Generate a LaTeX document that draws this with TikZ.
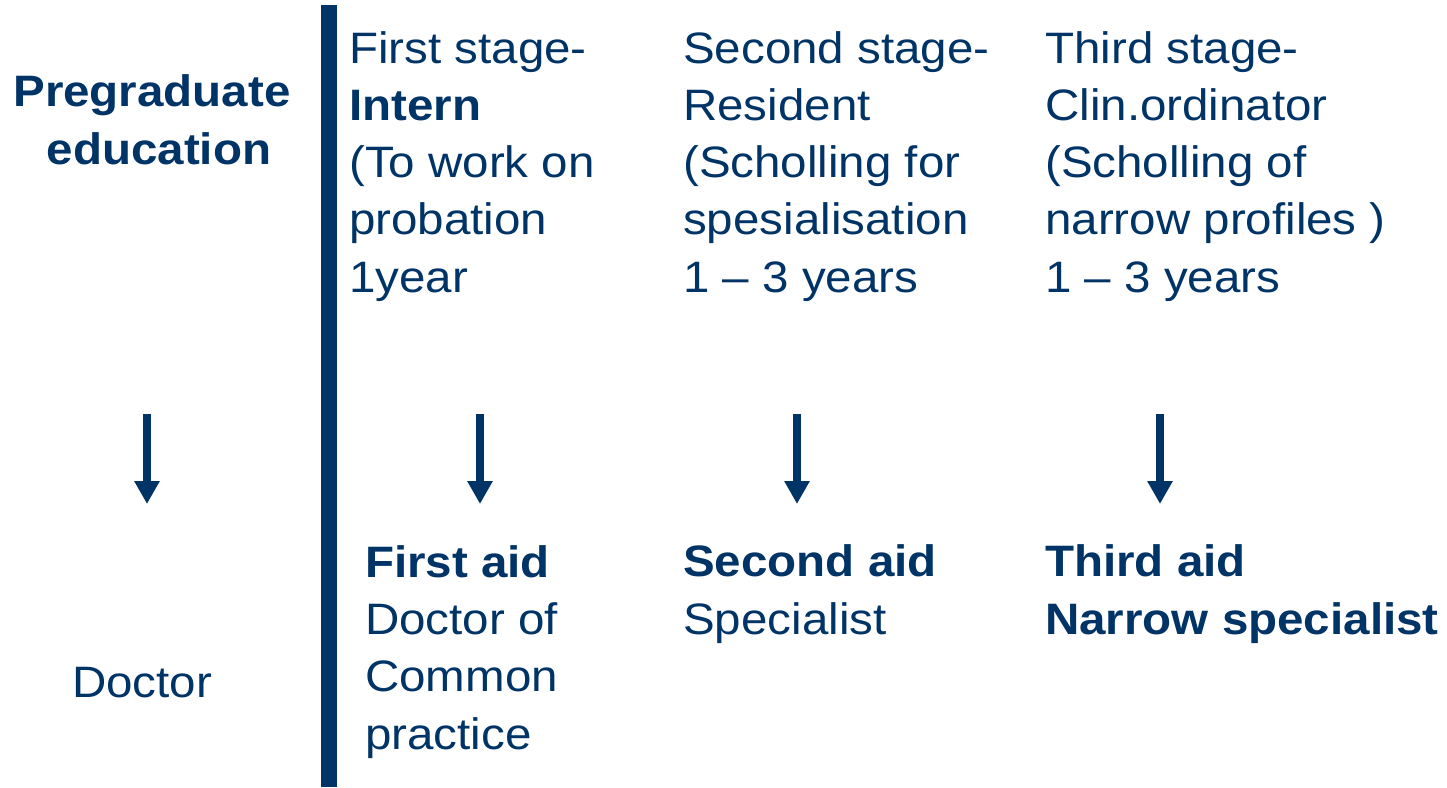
\documentclass[tikz,border=0pt]{standalone}
\usepackage{fontspec}
\setmainfont[FakeStretch=1.08]{Liberation Sans}
\usepackage{tikz}
\usetikzlibrary{arrows.meta}
\definecolor{navy}{RGB}{0,51,102}

\begin{document}
\begin{tikzpicture}%
        [x=1pt, y=-1pt,
        txt/.style={inner sep=0pt, anchor=base west, align=left, text=navy,
            font=\fontsize{44}{57.25}\selectfont},
        head/.style={txt, anchor=base, align=center, font=\fontsize{44}{57.25}\selectfont\bfseries},
        arr/.style={color=navy, line width=8pt, -{Triangle[length=23pt,width=24pt]}},
        bar/.style={fill=navy}]
    %
    \useasboundingbox (0,0) rectangle (1447,787);
    %% the divider
    \fill[bar] (321,5) rectangle (337,787);
    %% Drawing the stages (placed at the baseline of the last line)
    \node[head] (pregrad) at (152,164) {Pregraduate\\\hspace*{14pt}education};
    \node[txt] (stage1) at (349,292) {First stage-\\\textbf{Intern}\\(To work on\\probation\\1year};
    \node[txt] (stage2) at (683,292) {Second stage-\\Resident\\(Scholling for\\spesialisation\\1 -- 3 years};
    \node[txt] (stage3) at (1045,292) {Third stage-\\Clin.ordinator\\(Scholling of\\narrow profiles )\\1 -- 3 years};
    %% Drawing the results
    \node[txt] (doctor) at (72,697) {Doctor};
    \node[txt] (aid1) at (365,749) {\textbf{First aid}\\Doctor of\\Common\\practice};
    \node[txt] (aid2) at (683,634) {\textbf{Second aid}\\Specialist};
    \node[txt] (aid3) at (1045,634) {\textbf{Third aid}\\\textbf{Narrow specialist}};
    %% Arrows
    \coordinate (a0) at (147,414); \coordinate (b0) at (147,504);
    \coordinate (a1) at (480,414); \coordinate (b1) at (480,504);
    \coordinate (a2) at (797,414); \coordinate (b2) at (797,504);
    \coordinate (a3) at (1160,414); \coordinate (b3) at (1160,504);
    \draw[arr] (a0)--(b0);
    \draw[arr] (a1)--(b1);
    \draw[arr] (a2)--(b2);
    \draw[arr] (a3)--(b3);
    %%
\end{tikzpicture}
\end{document}
